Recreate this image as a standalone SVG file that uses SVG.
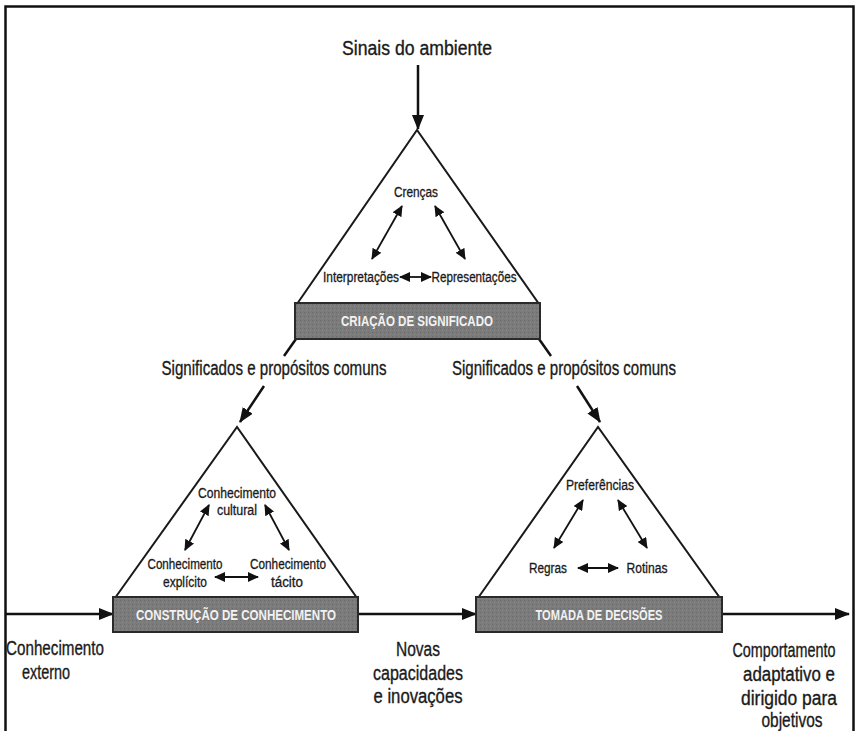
<svg xmlns="http://www.w3.org/2000/svg" width="856" height="731" viewBox="0 0 856 731">
<defs>
<marker id="big" markerUnits="userSpaceOnUse" markerWidth="15" markerHeight="12" refX="14" refY="6" orient="auto-start-reverse"><path d="M0,0 L15,6 L0,12 z" fill="#111"/></marker>
<marker id="sm" markerUnits="userSpaceOnUse" markerWidth="11" markerHeight="10" refX="10" refY="5" orient="auto-start-reverse"><path d="M0,0 L11,5 L0,10 z" fill="#111"/></marker>
<pattern id="tex" width="4" height="4" patternUnits="userSpaceOnUse"><rect width="4" height="4" fill="#7b7b7b"/><rect width="1" height="1" fill="#6a6a6a"/><rect x="2" y="2" width="1" height="1" fill="#8a8a8a"/></pattern>
</defs>
<style>
text{font-family:"Liberation Sans",Arial,Helvetica,sans-serif;fill:#1a1a1a;text-anchor:middle;stroke:#1a1a1a;stroke-width:0.35}
.lab{font-size:20px}
.in{font-size:14px;stroke-width:0.3}
.bar{font-size:14px;font-weight:bold;fill:#f2f2f2;stroke:none}
.tri{fill:#fff;stroke:#1a1a1a;stroke-width:2}
.box{fill:url(#tex);stroke:#2a2a2a;stroke-width:2}
.ln{fill:none;stroke:#111;stroke-width:2.5}
.da{fill:none;stroke:#111;stroke-width:1.8}
</style>
<rect x="0" y="0" width="856" height="731" fill="#fff"/>
<path d="M5.5,740 V6.5 H853.5 V740" fill="none" stroke="#111" stroke-width="2.5"/>

<g id="connectors">
<line class="ln" x1="418" y1="65" x2="418" y2="129" marker-end="url(#big)"/>
<line class="ln" x1="296" y1="339" x2="284" y2="356"/>
<line class="ln" x1="264" y1="386" x2="240" y2="422" marker-end="url(#big)"/>
<line class="ln" x1="539" y1="339" x2="551" y2="356"/>
<line class="ln" x1="577" y1="386" x2="600" y2="422" marker-end="url(#big)"/>
<line class="ln" x1="5" y1="614" x2="113" y2="614" marker-end="url(#big)"/>
<line class="ln" x1="358" y1="614" x2="476" y2="614" marker-end="url(#big)"/>
<line class="ln" x1="722" y1="614" x2="849" y2="614" marker-end="url(#big)"/>
</g>

<g id="sinais">
<text class="lab" x="417" y="55" textLength="150" lengthAdjust="spacingAndGlyphs">Sinais do ambiente</text>
</g>

<g id="criacao">
<polygon class="tri" points="297,304 417,130 539,304"/>
<rect class="box" x="295" y="303" width="245" height="36"/>
<text class="bar" x="417" y="326" textLength="152" lengthAdjust="spacingAndGlyphs">CRIAÇÃO DE SIGNIFICADO</text>
<text class="in" x="416" y="197" textLength="44" lengthAdjust="spacingAndGlyphs">Crenças</text>
<text class="in" x="361" y="282" textLength="76" lengthAdjust="spacingAndGlyphs">Interpretações</text>
<text class="in" x="474" y="282" textLength="85" lengthAdjust="spacingAndGlyphs">Representações</text>
<line class="da" x1="402" y1="206" x2="372" y2="259" marker-start="url(#sm)" marker-end="url(#sm)"/>
<line class="da" x1="435" y1="206" x2="465" y2="259" marker-start="url(#sm)" marker-end="url(#sm)"/>
<line class="da" x1="400" y1="277" x2="431" y2="277" marker-start="url(#sm)" marker-end="url(#sm)"/>
</g>

<g id="sig-left">
<text class="lab" x="274" y="375" textLength="225" lengthAdjust="spacingAndGlyphs">Significados e propósitos comuns</text>
</g>
<g id="sig-right">
<text class="lab" x="564" y="375" textLength="224" lengthAdjust="spacingAndGlyphs">Significados e propósitos comuns</text>
</g>

<g id="construcao">
<polygon class="tri" points="115,598 237,427 357,598"/>
<rect class="box" x="113" y="597" width="245" height="35"/>
<text class="bar" x="236" y="620" textLength="200" lengthAdjust="spacingAndGlyphs">CONSTRUÇÃO DE CONHECIMENTO</text>
<text class="in" x="237" y="498" textLength="78" lengthAdjust="spacingAndGlyphs">Conhecimento</text>
<text class="in" x="237" y="515" textLength="40" lengthAdjust="spacingAndGlyphs">cultural</text>
<text class="in" x="185" y="569" textLength="75" lengthAdjust="spacingAndGlyphs">Conhecimento</text>
<text class="in" x="185" y="587" textLength="44" lengthAdjust="spacingAndGlyphs">explícito</text>
<text class="in" x="288" y="569" textLength="76" lengthAdjust="spacingAndGlyphs">Conhecimento</text>
<text class="in" x="287" y="587" textLength="32" lengthAdjust="spacingAndGlyphs">tácito</text>
<line class="da" x1="209" y1="505" x2="185" y2="550" marker-start="url(#sm)" marker-end="url(#sm)"/>
<line class="da" x1="265" y1="505" x2="289" y2="550" marker-start="url(#sm)" marker-end="url(#sm)"/>
<line class="da" x1="215" y1="577" x2="258" y2="577" marker-start="url(#sm)" marker-end="url(#sm)"/>
</g>

<g id="decisoes">
<polygon class="tri" points="478,598 598,427 720,598"/>
<rect class="box" x="476" y="597" width="246" height="35"/>
<text class="bar" x="599" y="620" textLength="127" lengthAdjust="spacingAndGlyphs">TOMADA DE DECISÕES</text>
<text class="in" x="600" y="490" textLength="68" lengthAdjust="spacingAndGlyphs">Preferências</text>
<text class="in" x="548" y="573" textLength="38" lengthAdjust="spacingAndGlyphs">Regras</text>
<text class="in" x="647" y="573" textLength="41" lengthAdjust="spacingAndGlyphs">Rotinas</text>
<line class="da" x1="583" y1="500" x2="554" y2="548" marker-start="url(#sm)" marker-end="url(#sm)"/>
<line class="da" x1="618" y1="500" x2="647" y2="548" marker-start="url(#sm)" marker-end="url(#sm)"/>
<line class="da" x1="578" y1="568" x2="618" y2="568" marker-start="url(#sm)" marker-end="url(#sm)"/>
</g>

<g id="externo">
<text class="lab" x="55" y="655" textLength="98" lengthAdjust="spacingAndGlyphs">Conhecimento</text>
<text class="lab" x="46" y="679" textLength="48" lengthAdjust="spacingAndGlyphs">externo</text>
</g>
<g id="novas">
<text class="lab" x="418" y="656" textLength="44" lengthAdjust="spacingAndGlyphs">Novas</text>
<text class="lab" x="418" y="680" textLength="90" lengthAdjust="spacingAndGlyphs">capacidades</text>
<text class="lab" x="418" y="703" textLength="89" lengthAdjust="spacingAndGlyphs">e inovações</text>
</g>
<g id="comportamento">
<text class="lab" transform="translate(784,657) scale(0.72,1)" x="0" y="0">Comportamento</text>
<text class="lab" x="789" y="681" textLength="92" lengthAdjust="spacingAndGlyphs">adaptativo e</text>
<text class="lab" x="789" y="705" textLength="96" lengthAdjust="spacingAndGlyphs">dirigido para</text>
<text class="lab" x="792" y="727" textLength="61" lengthAdjust="spacingAndGlyphs">objetivos</text>
</g>
</svg>
